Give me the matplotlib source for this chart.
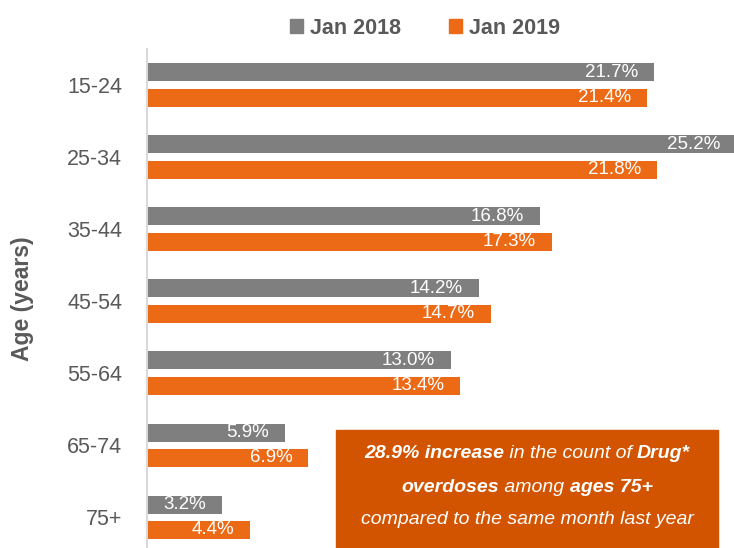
import matplotlib.pyplot as plt
from matplotlib.patches import Patch, Rectangle
import numpy as np

# Datos
edades = ['15-24', '25-34', '35-44', '45-54', '55-64', '65-74', '75+']
jan_2018 = [21.7, 25.2, 16.8, 14.2, 13.0, 5.9, 3.2]
jan_2019 = [21.4, 21.8, 17.3, 14.7, 13.4, 6.9, 4.4]

gris = '#7f7f7f'
naranja = '#ec6a15'
caja = '#d35400'
texto = '#595959'
fuente = ['Liberation Sans', 'DejaVu Sans']
plt.rcParams['font.family'] = fuente

fig = plt.figure(figsize=(7.34, 5.48), dpi=100)
ax = fig.add_axes([147 / 734, 0, 587 / 734, 499 / 548])

y = np.arange(len(edades))
off = 0.174
h = 0.25
b1 = ax.barh(y - off, jan_2018, height=h, color=gris)
b2 = ax.barh(y + off, jan_2019, height=h, color=naranja)

for barras, vals in ((b1, jan_2018), (b2, jan_2019)):
    for b, v in zip(barras, vals):
        ax.annotate(f'{v:.1f}%', (v, b.get_y() + b.get_height() / 2),
                    xytext=(-11.5, 0), textcoords='offset points',
                    ha='right', va='center', color='white', fontsize=13.5,
                    annotation_clip=False)

ax.set_xlim(0, 25.1)
ax.set_ylim(6.43, -0.5)
ax.set_yticks(y)
ax.set_yticklabels(edades, fontsize=15.5, color=texto)
ax.tick_params(axis='y', length=0, pad=18)
ax.set_xticks([])
for s in ['top', 'right', 'bottom']:
    ax.spines[s].set_visible(False)
ax.spines['left'].set_color('#d9d9d9')
ax.spines['left'].set_linewidth(1.5)
ax.set_ylabel('Age (years)', fontsize=16.5, fontweight='bold', color=texto)
ax.yaxis.set_label_coords(-113 / 587, 0.5)

# Leyenda
handles = [Patch(color=gris, label='Jan 2018'), Patch(color=naranja, label='Jan 2019')]
fig.legend(handles=handles, loc='center', bbox_to_anchor=(425 / 734, 1 - 28 / 548),
           ncol=2, frameon=False, handlelength=0.6, handleheight=0.6,
           handletextpad=0.35, columnspacing=2.2,
           prop={'family': fuente, 'weight': 'bold', 'size': 15.5})
for t in fig.legends[0].get_texts():
    t.set_color(texto)

# Caja de anotación
fig.patches.append(Rectangle((336 / 734, 0), (718 - 336) / 734, 118 / 548,
                             transform=fig.transFigure, color=caja, zorder=5))

lineas = [
    [('28.9% increase', 'bold'), (' in the count of ', 'normal'), ('Drug*', 'bold')],
    [('overdoses', 'bold'), (' among ', 'normal'), ('ages 75+', 'bold')],
    [('compared to the same month last year', 'normal')],
]
ys = [453, 487, 520]
cx = 527
fig.canvas.draw()
r = fig.canvas.get_renderer()
for partes, yl in zip(lineas, ys):
    objs = []
    for s, w in partes:
        t = fig.text(0, 1 - yl / 548, s, color='white', fontsize=14, style='italic',
                     weight=w, va='center', ha='left', zorder=6)
        objs.append(t)
    anchos = [t.get_window_extent(r).width for t in objs]
    x0 = cx - sum(anchos) / 2
    for t, a in zip(objs, anchos):
        t.set_x(x0 / 734)
        x0 += a

fig.savefig('out.png', dpi=100)
